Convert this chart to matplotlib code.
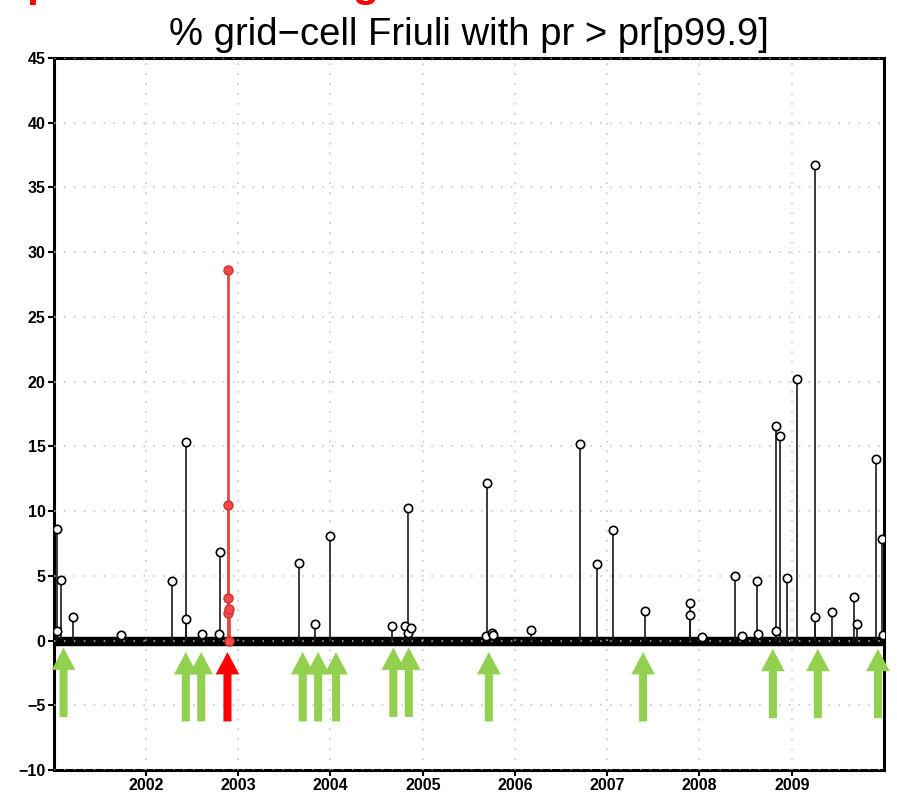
import numpy as np
import matplotlib
matplotlib.use("Agg")
import matplotlib.pyplot as plt
import matplotlib.dates as mdates

# period shown and days with a non-zero value
start_date = "2001-01-01"
end_date = "2010-01-01"

event_dates = ["2001-01-12", "2001-01-13", "2001-01-29", "2001-03-16", "2001-09-23",
               "2002-04-14", "2002-06-06", "2002-06-07", "2002-08-11", "2002-10-17",
               "2002-10-22", "2003-08-31", "2003-11-02", "2003-12-31", "2004-09-02",
               "2004-10-22", "2004-11-01", "2004-11-02", "2004-11-14", "2005-09-09",
               "2005-09-10", "2005-10-02", "2005-10-07", "2006-03-07", "2006-09-17",
               "2006-11-20", "2007-01-24", "2007-05-30", "2007-11-24", "2007-11-25",
               "2008-01-13", "2008-05-20", "2008-06-18", "2008-08-18", "2008-08-19",
               "2008-10-30", "2008-10-31", "2008-11-15", "2008-12-13", "2009-01-21",
               "2009-04-02", "2009-04-03", "2009-06-09", "2009-09-06", "2009-09-18",
               "2009-12-02", "2009-12-26", "2009-12-27"]
event_values = [0.7, 8.6, 4.7, 1.8, 0.4,
                4.6, 1.7, 15.3, 0.5, 0.5,
                6.8, 6.0, 1.3, 8.1, 1.1,
                1.1, 0.55, 10.2, 1.0, 0.35,
                12.2, 0.57, 0.4, 0.8, 15.2,
                5.9, 8.5, 2.3, 2.0, 2.9,
                0.3, 5.0, 0.35, 4.6, 0.5,
                0.75, 16.6, 15.8, 4.8, 20.2,
                36.7, 1.85, 2.2, 3.4, 1.25,
                14.0, 7.85, 0.4]

# highlighted event
red_dates = ["2002-11-20", "2002-11-21", "2002-11-22", "2002-11-23", "2002-11-24", "2002-11-25"]
red_values = [3.3, 10.5, 28.6, 2.1, 2.4, 0.0]

# arrows marking events
green_arrow_dates = ["2001-02-08", "2002-06-07", "2002-08-07", "2003-09-13", "2003-11-13",
                     "2004-01-23", "2004-09-06", "2004-11-06", "2005-09-19", "2007-05-23",
                     "2008-10-18", "2009-04-14", "2009-12-08"]
green_arrow_tips = [-0.55, -0.9, -0.9, -0.9, -0.9,
                    -0.9, -0.55, -0.55, -0.9, -0.9,
                    -0.65, -0.65, -0.65]
green_arrow_bases = [-5.9, -6.25, -6.25, -6.25, -6.25,
                     -6.25, -5.9, -5.9, -6.25, -6.25,
                     -6.0, -6.0, -6.0]
red_arrow_date = "2002-11-19"
red_arrow_tip = -0.9
red_arrow_base = -6.25

year_ticks = ["2002", "2003", "2004", "2005", "2006", "2007", "2008", "2009"]
y_ticks = [-10, -5, 0, 5, 10, 15, 20, 25, 30, 35, 40, 45]


def to_num(dates):
    return mdates.date2num(np.array(dates, dtype="datetime64[D]"))


fig = plt.figure(figsize=(8.97, 7.93), dpi=100)
ax = fig.add_axes([0.0602, 0.029, 0.9253, 0.898])

t0, t1 = to_num([start_date, end_date])

# thick zero band
ax.plot([t0, t1], [0, 0], color="black", lw=6.8, solid_capstyle="butt", zorder=2)

ev = to_num(event_dates)
ax.vlines(ev, 0, event_values, color="#1a1a1a", lw=1.2, zorder=3)
ax.plot(ev, event_values, "o", ms=6, mfc="white", mec="black", mew=1.2, zorder=4)

rd = to_num(red_dates)
ax.vlines(rd, 0, red_values, color="#e84848", lw=2.0, zorder=5)
ax.plot(rd, red_values, "o", ms=6.5, mfc="#ee4a4a", mec="#d83030", mew=1.0, zorder=6)

arrow_style = "simple,head_length=1.6,head_width=1.7,tail_width=0.58"
for d, tip, base in zip(to_num(green_arrow_dates), green_arrow_tips, green_arrow_bases):
    ax.annotate("", xy=(d, tip), xytext=(d, base), annotation_clip=False,
                arrowprops=dict(arrowstyle=arrow_style, color="#92d050", lw=0,
                                shrinkA=0, shrinkB=0, mutation_scale=10), zorder=7)
rx = to_num([red_arrow_date])[0]
ax.annotate("", xy=(rx, red_arrow_tip), xytext=(rx, red_arrow_base), annotation_clip=False,
            arrowprops=dict(arrowstyle=arrow_style, color="#ff0000", lw=0,
                            shrinkA=0, shrinkB=0, mutation_scale=10), zorder=7)

ax.set_xlim(t0, t1)
ax.set_ylim(-10, 45)
ax.set_yticks(y_ticks)
ax.set_xticks(to_num([y + "-01-01" for y in year_ticks]))
ax.set_xticklabels(year_ticks)

for lab in ax.get_xticklabels() + ax.get_yticklabels():
    lab.set_fontfamily(["Liberation Sans", "DejaVu Sans"])
    lab.set_fontweight("bold")
    lab.set_fontsize(11.5)
ax.tick_params(direction="out", length=4, width=1.5, pad=2)

ax.set_axisbelow(False)
ax.grid(True, color="#bdbdbd", linestyle=(0, (1, 5.5)), lw=1.1)
for s in ax.spines.values():
    s.set_linewidth(2.2)

ax.set_title("% grid\u2212cell Friuli with pr > pr[p99.9]", fontsize=27.5,
             family=["Liberation Sans", "DejaVu Sans"], pad=9)

# top of the slide heading, cut off by the image border
fig.text(26 / 897, 1 + 4 / 793, "p", color="red", fontsize=31, fontweight="bold",
         family=["Liberation Sans", "DejaVu Sans"], va="baseline")
fig.text(352 / 897, 1 + 4 / 793, "g", color="red", fontsize=31, fontweight="bold",
         family=["Liberation Sans", "DejaVu Sans"], va="baseline")

fig.savefig("out.png", dpi=100)
